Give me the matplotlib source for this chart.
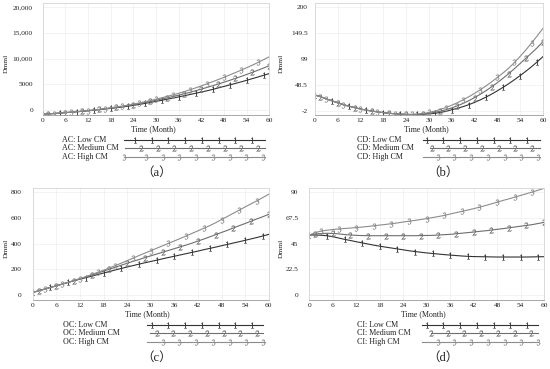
import numpy as np
import matplotlib.pyplot as plt
from matplotlib.lines import Line2D

plt.rcParams['font.family'] = ['Liberation Serif', 'Noto Sans CJK SC']
plt.rcParams['mathtext.fontset'] = 'stix'

# time axis (months), one value every 1.5 months
months = np.arange(0, 61.5, 1.5)
x_ticks = list(range(0, 61, 6))

# (a) AC
ac_low = [-840, -760, -680, -600, -520, -430, -340, -250, -150, -40, 70, 190, 320, 450, 590, 740,
          900, 1080, 1270, 1470, 1680, 1890, 2100, 2320, 2550, 2780, 3010, 3250, 3480, 3740, 4000,
          4290, 4580, 4870, 5160, 5460, 5770, 6090, 6410, 6740, 7080]
ac_med = [-840, -760, -680, -595, -510, -420, -330, -235, -130, -15, 105, 235, 375, 520, 670, 845,
          1030, 1230, 1440, 1660, 1890, 2130, 2370, 2620, 2880, 3160, 3450, 3750, 4060, 4380, 4710,
          5050, 5400, 5760, 6130, 6510, 6900, 7310, 7730, 8160, 8600]
ac_high = [-840, -760, -680, -590, -500, -410, -320, -220, -110, 10, 140, 280, 430, 590, 760, 950,
           1150, 1370, 1600, 1840, 2100, 2370, 2650, 2940, 3250, 3580, 3930, 4300, 4690, 5090, 5500,
           5920, 6350, 6800, 7260, 7730, 8210, 8710, 9230, 9780, 10350]
ac_ticks = [0, 5000, 10000, 15000, 20000]
ac_labels = ['0', '5000', '10,000', '15,000', '20,000']

# (b) CD
cd_low = [29.2, 25.9, 21.6, 18.0, 14.0, 10.5, 7.3, 4.5, 2.0, -0.2, -2.1, -3.8, -5.2, -6.4, -7.4, -8.1,
          -8.6, -8.8, -8.7, -8.3, -7.6, -6.5, -4.9, -2.7, 0.5, 3.2, 6.5, 10.3, 14.7, 19.6, 25.0,
          30.9, 37.3, 44.1, 51.3, 59.0, 67.0, 75.5, 84.3, 93.9, 104]
cd_med = [29.2, 25.9, 21.6, 18.0, 14.0, 10.5, 7.3, 4.5, 2.0, -0.2, -2.1, -3.8, -5.2, -6.4, -7.4, -8.1,
          -8.6, -8.8, -8.4, -7.6, -6.4, -4.7, -2.4, 0.5, 4.0, 8.1, 12.8, 18.1, 24.0, 30.5, 37.5,
          45.1, 53.2, 61.8, 70.9, 80.5, 90.6, 100.8, 111.0, 121.5, 133]
cd_high = [29.2, 25.9, 21.6, 18.0, 14.0, 10.5, 7.3, 4.5, 2.0, -0.2, -2.1, -3.8, -5.2, -6.4, -7.4, -8.1,
           -8.6, -8.8, -8.1, -7.0, -4.8, -2.2, 1.0, 4.8, 9.2, 14.2, 19.8, 25.8, 32.3, 39.3, 46.8,
           54.8, 63.3, 72.2, 81.5, 92.5, 104.5, 117.0, 130.5, 144.5, 159]
cd_ticks = [-2, 48.5, 99, 149.5, 200]
cd_labels = ['-2', '48.5', '99', '149.5', '200']

# (c) OC
oc_low = [20, 33, 46, 59, 72, 85, 98, 111, 123, 135, 147, 159, 171, 183, 195, 207, 218, 229, 240,
          251, 261, 271, 282, 292, 302, 312, 322, 332, 342, 353, 363, 373, 384, 394, 405, 415, 426,
          437, 448, 460, 472]
oc_med = [20, 32, 45, 58, 71, 85, 98, 112, 126, 140, 155, 170, 186, 201, 216, 232, 247, 262, 276,
          291, 305, 319, 333, 347, 361, 375, 389, 404, 420, 436, 453, 470, 487, 504, 522, 540, 557,
          575, 593, 610, 628]
oc_high = [20, 32, 45, 58, 71, 85, 99, 113, 128, 143, 160, 176, 193, 211, 229, 248, 267, 287, 307,
           326, 345, 364, 383, 402, 421, 440, 460, 480, 500, 520, 540, 563, 588, 612, 637, 661, 686,
           710, 734, 759, 785]
oc_ticks = [0, 200, 400, 600, 800]
oc_labels = ['0', '200', '400', '600', '800']

# (d) CI
ci_low = [52.6, 52.6, 52.4, 52.0, 51.1, 50.0, 48.8, 47.8, 46.7, 45.7, 44.7, 43.7, 42.8, 42.0, 41.2,
          40.4, 39.6, 38.8, 38.1, 37.5, 36.9, 36.4, 35.9, 35.4, 35.0, 34.6, 34.2, 33.9, 33.7, 33.6,
          33.5, 33.4, 33.3, 33.3, 33.3, 33.3, 33.3, 33.3, 33.4, 33.5, 33.6]
ci_med = [52.6, 53.5, 53.9, 54.1, 54.0, 53.6, 53.0, 52.6, 52.3, 52.1, 52.0, 52.0, 52.0, 52.0, 52.0,
          52.0, 52.0, 52.0, 52.0, 52.1, 52.2, 52.3, 52.6, 52.9, 53.2, 53.7, 54.2, 54.7, 55.2, 55.8,
          56.3, 56.9, 57.6, 58.2, 58.9, 59.6, 60.3, 61.0, 61.7, 62.7, 63.7]
ci_high = [52.6, 54.6, 56.1, 56.8, 57.4, 57.9, 58.3, 58.7, 59.1, 59.6, 60.1, 60.7, 61.3, 61.9, 62.5,
           63.2, 64.0, 64.7, 65.4, 66.2, 67.0, 67.9, 68.8, 69.8, 71.0, 72.2, 73.3, 74.5, 75.7, 77.0,
           78.4, 79.9, 81.4, 82.9, 84.3, 85.8, 87.3, 88.8, 90.3, 91.9, 93.5]
ci_ticks = [0, 22.5, 45, 67.5, 90]
ci_labels = ['0', '22.5', '45', '67.5', '90']

scenarios = ['Low CM', 'Medium CM', 'High CM']
colors = ['#333333', '#6e6e6e', '#8c8c8c']
digits = ['$1$', '$2$', '$3$']
MS = 4.2

W, H = 550, 369
fig = plt.figure(figsize=(W / 100, H / 100), dpi=100)


def fx(x):
    return x / W


def fy(y):
    return 1 - y / H


panels = [
    dict(name='AC', tag='（a）', data=[ac_low, ac_med, ac_high], ticks=ac_ticks, labels=ac_labels,
         ylim=(-970, 20840), box=(42.7, 269.3, 2.7, 115), ox=0, oy=0, ypad=7,
         text_x=62, leg=[(124, 265, 135), (125, 265, 141), (124, 265, 146)], nmark=[8, 8, 8]),
    dict(name='CD', tag='（b）', data=[cd_low, cd_med, cd_high], ticks=cd_ticks, labels=cd_labels,
         ylim=(-9.8, 209), box=(314.7, 543, 2.7, 115), ox=275, oy=0, ypad=4.8,
         text_x=356.7, leg=[(423, 540, 426.7), (430, 540, 431.7), (423, 540, 437.7)], nmark=[7, 7, 7]),
    dict(name='OC', tag='（c）', data=[oc_low, oc_med, oc_high], ticks=oc_ticks, labels=oc_labels,
         ylim=(-39, 836), box=(32.7, 268.7, 187.7, 300), ox=0, oy=185, ypad=8,
         text_x=63, leg=[(147, 263, 151.7), (150, 263, 156.7), (147, 265, 162.7)], nmark=[7, 7, 7]),
    dict(name='CI', tag='（d）', data=[ci_low, ci_med, ci_high], ticks=ci_ticks, labels=ci_labels,
         ylim=(-4.4, 94.1), box=(309.3, 544, 187.7, 300), ox=275, oy=185, ypad=8,
         text_x=356.7, leg=[(422, 538, 426.7), (431, 538, 431.0), (422, 538, 437.7)], nmark=[7, 7, 7]),
]

for p in panels:
    x0, x1, y0, y1 = p['box']
    ax = fig.add_axes([fx(x0), fy(y1), fx(x1 - x0), (y1 - y0) / H])
    for i, vals in enumerate(p['data']):
        ax.plot(months, vals, color=colors[i], lw=0.8, marker=digits[i], ms=MS,
                markevery=(i, 3), markeredgewidth=0.2)
    ax.set_xlim(0, 60)
    ax.set_ylim(*p['ylim'])
    ax.set_xticks(x_ticks)
    ax.set_yticks(p['ticks'])
    ax.set_yticklabels(p['labels'])
    ax.tick_params(length=0, labelsize=5.3, colors='#222222')
    ax.tick_params(axis='y', pad=p['ypad'])
    ax.tick_params(axis='x', pad=2.5)
    ax.grid(True, color='#efefef', lw=0.5)
    ax.set_axisbelow(True)
    for s in ax.spines.values():
        s.set_color('#d4d4d4')
        s.set_linewidth(0.6)
    ax.spines['bottom'].set_color('#9a9a9a')

    ox, oy = p['ox'], p['oy']
    fig.text(fx((x0 + x1) / 2 - 3), fy(oy + 129.5), 'Time (Month)', ha='center', va='center',
             fontsize=5.7, color='#222222')
    fig.text(fx(ox + 6), fy(oy + 63), 'Dmml', rotation=90, ha='center', va='center',
             fontsize=5.4, color='#222222')

    # legend rows
    rows = [oy + 140, oy + 148.3, oy + 157.3]
    for i, (lx0, lx1, m0) in enumerate(p['leg']):
        y = rows[i]
        fig.text(fx(p['text_x']), fy(y), f"{p['name']}: {scenarios[i]}", ha='left', va='center',
                 fontsize=5.8, color='#222222')
        fig.add_artist(Line2D([fx(lx0), fx(lx1)], [fy(y), fy(y)], color=colors[i], lw=0.8))
        mx = [m0 + 16.7 * k for k in range(p['nmark'][i])]
        if p['name'] == 'AC' and i == 2:
            mx = [124.3] + mx
        fig.add_artist(Line2D([fx(m) for m in mx], [fy(y)] * len(mx), ls='none', marker=digits[i],
                              ms=MS, color=colors[i], markeredgewidth=0.2))

    fig.text(fx(ox + 157 if ox == 0 else ox + 168), fy(oy + 173), p['tag'], ha='center', va='center',
             fontsize=9, color='#222222')

fig.savefig('out.png', dpi=100)
